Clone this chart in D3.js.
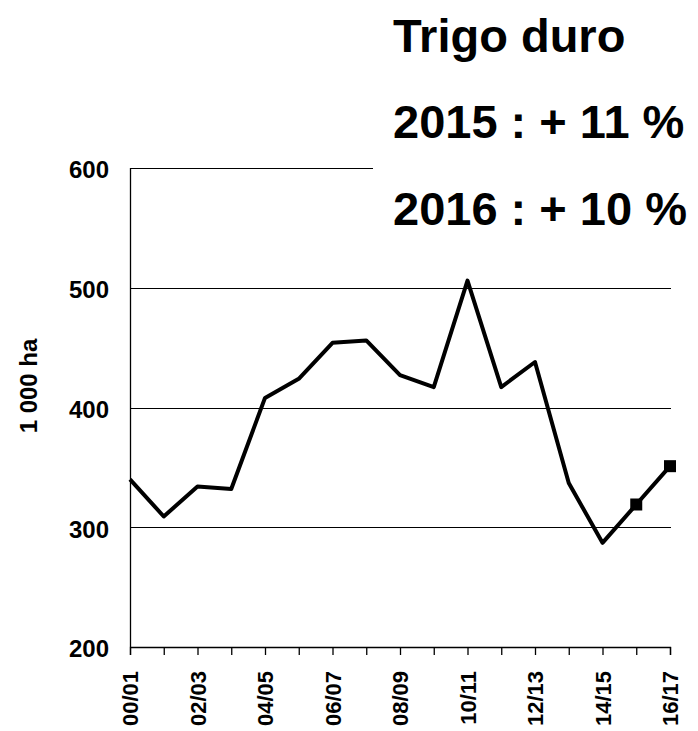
<!DOCTYPE html>
<html>
<head>
<meta charset="utf-8">
<script src="https://cdn.jsdelivr.net/npm/d3@7"></script>
<style>
  body { margin: 0; background: #fff; }
  svg text { font-family: "Liberation Sans", Arial, sans-serif; font-weight: bold; fill: #000; }
</style>
</head>
<body>
<div id="chart"></div>
<script>
const WIDTH = 698;
const HEIGHT = 731;
const LEFT = 130;
const RIGHT = 670;
const TOP = 168;
const BOTTOM = 647;

//Data
var SEASONS = ["00/01", "01/02", "02/03", "03/04", "04/05", "05/06", "06/07", "07/08", "08/09",
  "09/10", "10/11", "11/12", "12/13", "13/14", "14/15", "15/16", "16/17"];
var AREA = [340, 309, 334, 332, 408, 424, 454, 456, 427, 417, 506, 417, 438, 337, 287, 319, 351];
var MARKED = ["15/16", "16/17"];
var Y_TICKS = [200, 300, 400, 500, 600];
var Y_TITLE = "1 000 ha";
var NOTES = ["Trigo duro", "2015 : + 11 %", "2016 : + 10 %"];

//Scales
var xScale = d3.scalePoint().domain(SEASONS).range([LEFT, RIGHT]);
var yScale = d3.scaleLinear().domain([200, 600]).range([BOTTOM, TOP]);

var svg = d3
  .select("#chart")
  .append("svg")
  .attr("width", WIDTH)
  .attr("height", HEIGHT);

//Gridlines
svg
  .append("g")
  .selectAll("line")
  .data(Y_TICKS.filter((d) => d > 200))
  .enter()
  .append("line")
  .attr("x1", LEFT)
  .attr("x2", RIGHT + 1)
  .attr("y1", (d) => Math.round(yScale(d)) + 0.5)
  .attr("y2", (d) => Math.round(yScale(d)) + 0.5)
  .attr("stroke", "#000")
  .attr("stroke-width", 1);

//Y axis line
svg
  .append("line")
  .attr("x1", LEFT + 0.5)
  .attr("x2", LEFT + 0.5)
  .attr("y1", TOP)
  .attr("y2", BOTTOM)
  .attr("stroke", "#000")
  .attr("stroke-width", 1.3);

//Y tick labels
svg
  .append("g")
  .selectAll("text")
  .data(Y_TICKS)
  .enter()
  .append("text")
  .attr("x", LEFT - 21)
  .attr("y", (d) => yScale(d) + 2)
  .attr("dy", "0.35em")
  .attr("text-anchor", "end")
  .style("font-size", "24px")
  .text((d) => d);

//Y title
svg
  .append("text")
  .attr("transform", "translate(37,386) rotate(-90)")
  .attr("text-anchor", "middle")
  .style("font-size", "24px")
  .text(Y_TITLE);

//X axis
var xAxis = d3
  .axisBottom(xScale)
  .tickSize(8)
  .tickSizeOuter(8)
  .tickPadding(0)
  .tickFormat((d, i) => (i % 2 === 0 ? d : ""));

var gx = svg
  .append("g")
  .attr("transform", "translate(0," + BOTTOM + ")")
  .call(xAxis);

gx.select(".domain").attr("stroke", "#000").attr("stroke-width", 1.3);
gx.selectAll(".tick line").attr("stroke", "#000").attr("stroke-width", 1.3);
gx.selectAll(".tick text")
  .attr("transform", "rotate(-90)")
  .attr("x", -24)
  .attr("y", 0)
  .attr("dy", "0.35em")
  .attr("text-anchor", "end")
  .style("font-size", "22px")
  .style("font-family", "'Liberation Sans', Arial, sans-serif")
  .style("font-weight", "bold");

//The line
var line = d3
  .line()
  .x((d, i) => xScale(SEASONS[i]))
  .y((d) => yScale(d));

svg
  .append("path")
  .datum(AREA)
  .attr("d", line)
  .attr("fill", "none")
  .attr("stroke", "#000")
  .attr("stroke-width", 4)
  .attr("stroke-linejoin", "round");

//Square markers for the last two seasons
svg
  .append("g")
  .selectAll("rect")
  .data(MARKED)
  .enter()
  .append("rect")
  .attr("x", (d) => xScale(d) - 6)
  .attr("y", (d) => yScale(AREA[SEASONS.indexOf(d)]) - 6)
  .attr("width", 12)
  .attr("height", 12)
  .attr("fill", "#000");

//Text box (white background hides the top gridline)
var box = svg.append("g").attr("transform", "translate(373,0)");
box
  .append("rect")
  .attr("width", WIDTH - 373)
  .attr("height", 270)
  .attr("fill", "#fff");
box
  .selectAll("text")
  .data(NOTES)
  .enter()
  .append("text")
  .attr("x", 20)
  .attr("y", (d, i) => 51.5 + i * 86.7)
  .style("font-size", "47px")
  .text((d) => d);
</script>
</body>
</html>
